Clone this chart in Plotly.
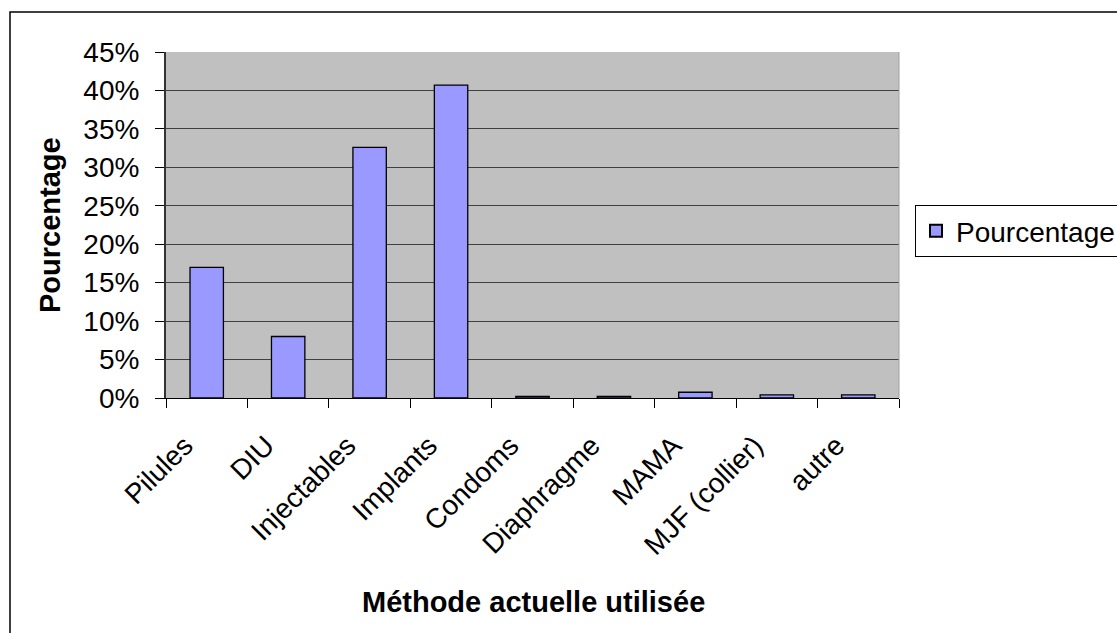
import plotly.graph_objects as go

categories = ["Pilules", "DIU", "Injectables", "Implants", "Condoms",
              "Diaphragme", "MAMA", "MJF (collier)", "autre"]
pourcentage = [17.0, 8.0, 32.6, 40.7, 0.2, 0.2, 0.75, 0.4, 0.4]
y_ticks = [0, 5, 10, 15, 20, 25, 30, 35, 40, 45]
y_tick_labels = [f"{v}%" for v in y_ticks]

FONT = "Arial, Liberation Sans, sans-serif"

fig = go.Figure()
fig.add_trace(go.Bar(
    x=categories, y=pourcentage, name="Pourcentage",
    marker=dict(color="#9999FF", line=dict(color="#000000", width=1.3)),
    showlegend=True,
))

W, H = 1117, 633
L, T, R, B = 166, 52, 899, 398
pw, ph = R - L, B - T

def px_x(x):
    return (x - L) / pw

def px_y(y):
    return (B - y) / ph

fig.update_layout(
    width=W, height=H,
    margin=dict(l=L, t=T, r=W - R, b=H - B, autoexpand=False),
    paper_bgcolor="white",
    plot_bgcolor="#C0C0C0",
    bargap=0.59,
    font=dict(family=FONT, size=28, color="black"),
    showlegend=True,
    legend=dict(
        x=px_x(915), y=px_y(231), xanchor="left", yanchor="middle",
        bgcolor="white", bordercolor="#000000", borderwidth=1,
        font=dict(family=FONT, size=28, color="black"),
        itemsizing="constant",
        tracegroupgap=0,
    ),
    xaxis=dict(
        type="category",
        tickangle=-45,
        ticks="outside", ticklen=9, tickcolor="#000000",
        tickson="boundaries",
        showline=True, linecolor="#000000", linewidth=1,
        showgrid=False,
        tickfont=dict(family=FONT, size=28, color="black"),
        ticklabelstandoff=19,
        ticklabelshift=-22,
        automargin=False,
    ),
    yaxis=dict(
        range=[0, 45],
        tickvals=y_ticks, ticktext=y_tick_labels,
        ticks="outside", ticklen=9, tickcolor="#000000",
        showline=True, linecolor="#333333", linewidth=2,
        showgrid=True, gridcolor="#404040", gridwidth=1,
        zeroline=False,
        tickfont=dict(family=FONT, size=28, color="black"),
        ticklabelstandoff=10,
        automargin=False,
    ),
    annotations=[
        dict(text="<b>Pourcentage</b>", xref="paper", yref="paper",
             x=px_x(50), y=px_y(225), textangle=-90, showarrow=False,
             xanchor="center", yanchor="middle",
             font=dict(family=FONT, size=29, color="black")),
        dict(text="<b>Méthode actuelle utilisée</b>", xref="paper", yref="paper",
             x=px_x(533), y=px_y(602), showarrow=False,
             xanchor="center", yanchor="middle",
             font=dict(family=FONT, size=29, color="black")),
    ],
    shapes=[
        dict(type="rect", xref="paper", yref="paper",
             x0=px_x(10), y0=px_y(660), x1=px_x(1140), y1=px_y(12),
             line=dict(color="#000000", width=1.5), layer="below"),
        dict(type="line", xref="paper", yref="paper",
             x0=1, x1=1, y0=0, y1=1,
             line=dict(color="#A0A0A0", width=1)),
    ],
)

fig.write_html("out.html")
